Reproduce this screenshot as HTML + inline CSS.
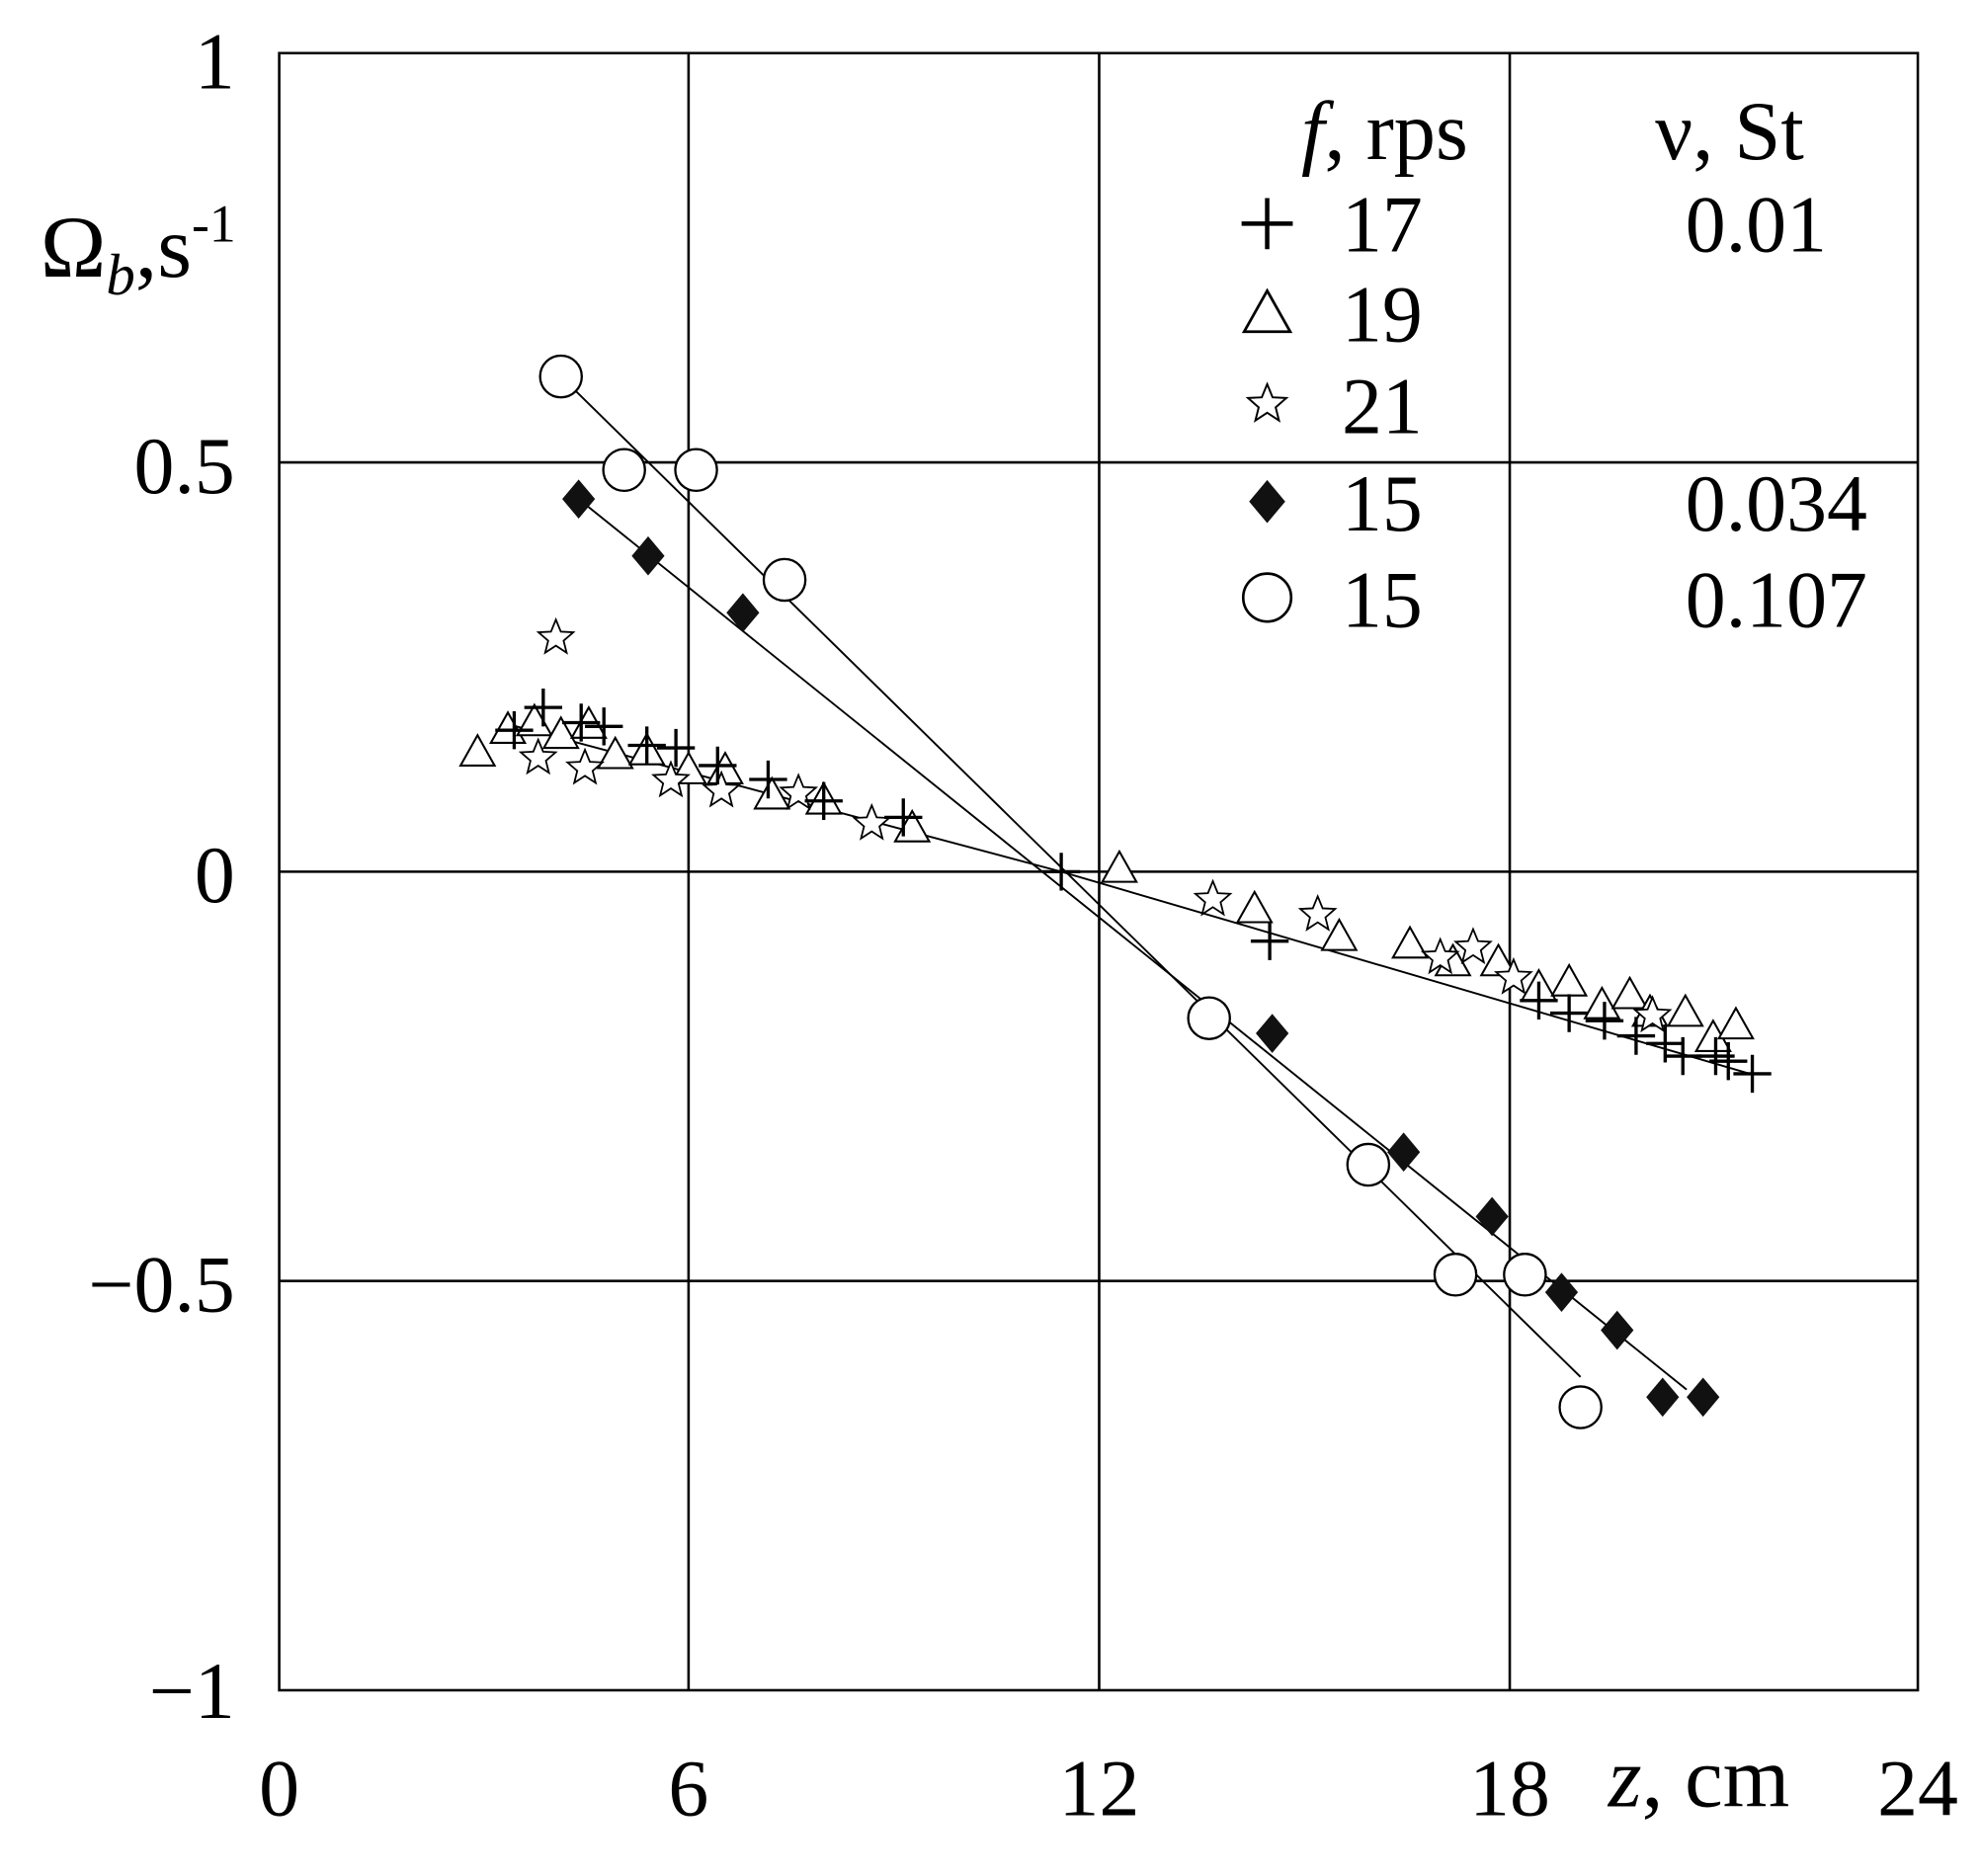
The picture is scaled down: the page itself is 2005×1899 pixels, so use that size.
<!DOCTYPE html>
<html><head><meta charset="utf-8"><style>html,body{margin:0;padding:0;background:#fff}svg{display:block}</style></head>
<body>
<svg width="2005" height="1899" viewBox="0 0 1568 1485" xmlns="http://www.w3.org/2000/svg" font-family="Liberation Serif, serif" font-size="64">
<defs>
<g id="p"><path d="M-15 0H15M0 -15V15" stroke="#000" stroke-width="2.6" fill="none"/></g>
<g id="t"><path d="M0 -14L13.5 10H-13.5Z" stroke="#000" stroke-width="1.6" fill="#fff"/></g>
<g id="s"><path d="M0,-14.5 L3.9,-5 13.8,-4.5 6.1,2.2 8.5,11.7 0,6.1 -8.5,11.7 -6.1,2.2 -13.8,-4.5 -3.9,-5Z" stroke="#000" stroke-width="1.4" fill="#fff"/></g>
<g id="d"><path d="M0 -15.5L13 0 0 15.5 -13 0Z" fill="#111"/></g>
<g id="c"><circle r="16.5" stroke="#000" stroke-width="1.8" fill="#fff"/></g>
</defs>
<g stroke="#000" stroke-width="2" fill="none">
<rect x="221" y="42" width="1297" height="1296"/>
<path d="M545 42V1338M870 42V1338M1195 42V1338M221 366H1518M221 690H1518M221 1014H1518"/>
</g>
<g stroke="#000" stroke-width="1.5">
<line x1="444" y1="298" x2="1251" y2="1090"/>
<line x1="458" y1="395" x2="1335" y2="1100"/>
<line x1="405" y1="574" x2="840" y2="690"/>
<line x1="840" y1="690" x2="1385" y2="850"/>
</g>
<g>
<use href="#t" x="378" y="596"/><use href="#t" x="402" y="578"/><use href="#t" x="423" y="572"/><use href="#t" x="444" y="582"/><use href="#t" x="466" y="574"/><use href="#t" x="487" y="598"/><use href="#t" x="512" y="595"/><use href="#t" x="545" y="610"/><use href="#t" x="574" y="610"/><use href="#t" x="611" y="630"/><use href="#t" x="652" y="634"/><use href="#t" x="722" y="656"/><use href="#t" x="886" y="688"/><use href="#t" x="993" y="720"/><use href="#t" x="1060" y="742"/><use href="#t" x="1116" y="748"/><use href="#t" x="1150" y="762"/><use href="#t" x="1186" y="762"/><use href="#t" x="1218" y="782"/><use href="#t" x="1242" y="778"/><use href="#t" x="1268" y="796"/><use href="#t" x="1290" y="788"/><use href="#t" x="1306" y="802"/><use href="#t" x="1334" y="802"/><use href="#t" x="1356" y="822"/><use href="#t" x="1374" y="812"/>
<use href="#s" x="440" y="505"/><use href="#s" x="426" y="600"/><use href="#s" x="463" y="608"/><use href="#s" x="531" y="618"/><use href="#s" x="571" y="626"/><use href="#s" x="632" y="628"/><use href="#s" x="690" y="652"/><use href="#s" x="960" y="712"/><use href="#s" x="1043" y="724"/><use href="#s" x="1140" y="758"/><use href="#s" x="1166" y="750"/><use href="#s" x="1198" y="774"/><use href="#s" x="1308" y="804"/>
<use href="#p" x="407" y="578"/><use href="#p" x="430" y="560"/><use href="#p" x="460" y="572"/><use href="#p" x="478" y="575"/><use href="#p" x="512" y="590"/><use href="#p" x="535" y="592"/><use href="#p" x="568" y="606"/><use href="#p" x="608" y="617"/><use href="#p" x="652" y="634"/><use href="#p" x="715" y="647"/><use href="#p" x="840" y="690"/><use href="#p" x="1005" y="745"/><use href="#p" x="1218" y="792"/><use href="#p" x="1242" y="802"/><use href="#p" x="1270" y="808"/><use href="#p" x="1295" y="820"/><use href="#p" x="1318" y="826"/><use href="#p" x="1332" y="836"/><use href="#p" x="1358" y="836"/><use href="#p" x="1368" y="840"/><use href="#p" x="1387" y="850"/>
<use href="#d" x="458" y="395"/><use href="#d" x="513" y="440"/><use href="#d" x="588" y="485"/><use href="#d" x="1007" y="818"/><use href="#d" x="1111" y="912"/><use href="#d" x="1181" y="963"/><use href="#d" x="1236" y="1023"/><use href="#d" x="1280" y="1053"/><use href="#d" x="1316" y="1106"/><use href="#d" x="1348" y="1106"/>
<use href="#c" x="444" y="298"/><use href="#c" x="494" y="372"/><use href="#c" x="551" y="372"/><use href="#c" x="621" y="459"/><use href="#c" x="957" y="806"/><use href="#c" x="1083" y="922"/><use href="#c" x="1152" y="1009"/><use href="#c" x="1207" y="1009"/><use href="#c" x="1251" y="1114"/>
</g>
<g text-anchor="end">
<text x="186" y="70">1</text>
<text x="186" y="390">0.5</text>
<text x="186" y="714">0</text>
<text x="186" y="1038">−0.5</text>
<text x="186" y="1360">−1</text>
</g>
<g text-anchor="middle">
<text x="221" y="1437">0</text>
<text x="545" y="1437">6</text>
<text x="870" y="1437">12</text>
<text x="1195" y="1437">18</text>
<text x="1518" y="1437">24</text>
</g>
<text x="1273" y="1430" font-size="68"><tspan font-style="italic">z</tspan>,  cm</text>
<text x="32" y="219" font-size="70">Ω<tspan font-style="italic" font-size="46" dy="14">b</tspan><tspan dy="-14">,</tspan><tspan>s</tspan><tspan font-size="42" dy="-28">-1</tspan></text>
<text x="1030" y="126" font-size="66"><tspan font-style="italic">f</tspan>, rps</text>
<text x="1310" y="126" font-size="66">ν, St</text>
<g>
<g transform="translate(1003 177) scale(1.35)"><use href="#p"/></g>
<g transform="translate(1003 249) scale(1.35)"><use href="#t"/></g>
<g transform="translate(1003 320) scale(1.1)"><use href="#s"/></g>
<g transform="translate(1003 397) scale(1.1)"><use href="#d"/></g>
<g transform="translate(1003 473) scale(1.15)"><use href="#c"/></g>
</g>
<text x="1062" y="199">17</text><text x="1062" y="270">19</text><text x="1062" y="343">21</text><text x="1062" y="420">15</text><text x="1062" y="496">15</text>
<text x="1334" y="199">0.01</text><text x="1334" y="420">0.034</text><text x="1334" y="496">0.107</text>
</svg>
</body></html>
